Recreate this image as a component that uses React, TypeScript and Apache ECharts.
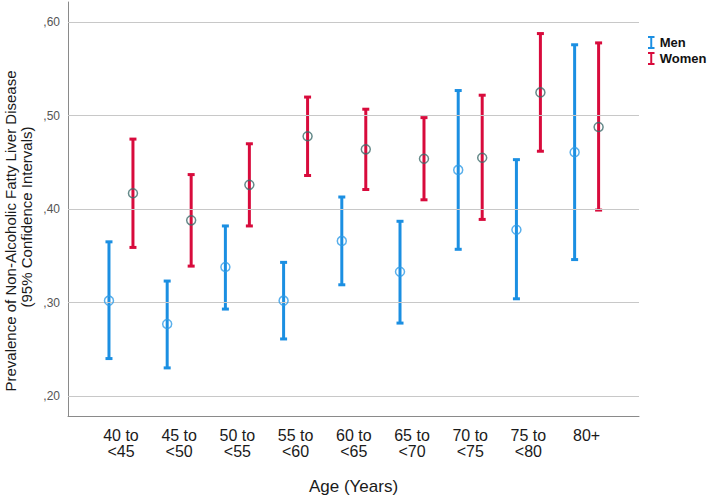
import React, { useEffect, useRef } from "react";
import * as echarts from "echarts";

const categories = ["40 to\n<45", "45 to\n<50", "50 to\n<55", "55 to\n<60", "60 to\n<65", "65 to\n<70", "70 to\n<75", "75 to\n<80", "80+"];
const menMean = [0.302, 0.277, 0.338, 0.302, 0.366, 0.333, 0.442, 0.378, 0.461];
const menLow = [0.240, 0.230, 0.293, 0.261, 0.319, 0.278, 0.357, 0.304, 0.346];
const menHigh = [0.365, 0.323, 0.382, 0.343, 0.413, 0.387, 0.527, 0.453, 0.576];
const womenMean = [0.417, 0.388, 0.426, 0.478, 0.464, 0.454, 0.455, 0.525, 0.488];
const womenLow = [0.359, 0.339, 0.382, 0.436, 0.421, 0.410, 0.389, 0.462, 0.399];
const womenHigh = [0.475, 0.437, 0.470, 0.520, 0.507, 0.498, 0.522, 0.588, 0.578];
const yTicks = [0.2, 0.3, 0.4, 0.5, 0.6];
const yTitle1 = "Prevalence of Non-Alcoholic Fatty Liver Disease";
const yTitle2 = "(95% Confidence Intervals)";
const xTitle = "Age (Years)";

const BLUE = "#1b8fe2";
const RED = "#d80b3c";
const MEN_MARK = "#2f9be6";
const WOMEN_MARK = "#3d6b6b";
const OFFSET = 0.206;
const FONT = "Liberation Sans, Arial, sans-serif";

const IBEAM = "path://M0,0H10V3H6.5V17H10V20H0V17H3.5V3H0Z";

function errorItem(color: string) {
  return (params: any, api: any) => {
    const x = api.value(0);
    const lo = api.coord([x, api.value(1)]);
    const hi = api.coord([x, api.value(2)]);
    const cap = 3.5;
    const style = { stroke: color, lineWidth: 3 };
    return {
      type: "group",
      children: [
        { type: "line", shape: { x1: lo[0], y1: lo[1], x2: hi[0], y2: hi[1] }, style },
        { type: "line", shape: { x1: hi[0] - cap, y1: hi[1], x2: hi[0] + cap, y2: hi[1] }, style },
        { type: "line", shape: { x1: lo[0] - cap, y1: lo[1], x2: lo[0] + cap, y2: lo[1] }, style },
      ],
    };
  };
}

export default function App() {
  const ref = useRef<HTMLDivElement>(null);
  useEffect(() => {
    if (!ref.current) return;
    document.body.style.margin = "0";
    const chart = echarts.init(ref.current, null, { renderer: "svg" });
    const menErr = categories.map((_, i) => [i - OFFSET, menLow[i], menHigh[i]]);
    const womenErr = categories.map((_, i) => [i + OFFSET, womenLow[i], womenHigh[i]]);
    const menPts = categories.map((_, i) => [i - OFFSET, menMean[i]]);
    const womenPts = categories.map((_, i) => [i + OFFSET, womenMean[i]]);
    chart.setOption({
      animation: false,
      textStyle: { fontFamily: FONT },
      grid: { left: 68, right: 69, top: 2, bottom: 77, containLabel: false },
      legend: {
        orient: "vertical",
        left: 643,
        top: 31,
        itemWidth: 7,
        itemHeight: 13,
        itemGap: 3,
        data: [
          { name: "Men", icon: IBEAM },
          { name: "Women", icon: IBEAM },
        ],
        textStyle: { fontSize: 13, fontWeight: "bold", color: "#111" },
      },
      graphic: [
        {
          type: "text",
          x: 10,
          y: 231,
          rotation: Math.PI / 2,
          style: { text: yTitle1, font: `15px ${FONT}`, fill: "#1a1a1a", textAlign: "center", textVerticalAlign: "middle" },
        },
        {
          type: "text",
          x: 26,
          y: 217,
          rotation: Math.PI / 2,
          style: { text: yTitle2, font: `15px ${FONT}`, fill: "#1a1a1a", textAlign: "center", textVerticalAlign: "middle" },
        },
      ],
      xAxis: {
        type: "value",
        min: -0.91,
        max: 8.9,
        axisLine: { show: true, onZero: false, lineStyle: { color: "#8a8a8a", width: 1 } },
        axisTick: { show: false },
        splitLine: { show: false },
        axisLabel: {
          customValues: categories.map((_, i) => i),
          formatter: (v: number) => categories[Math.round(v)] ?? "",
          fontSize: 16,
          lineHeight: 16,
          color: "#1a1a1a",
          margin: 11,
        },
        name: xTitle,
        nameLocation: "middle",
        nameGap: 62,
        nameTextStyle: { fontSize: 17, color: "#1a1a1a" },
      },
      yAxis: {
        type: "value",
        min: 0.1785,
        max: 0.6218,
        axisLine: { show: true, onZero: false, lineStyle: { color: "#8a8a8a", width: 1 } },
        axisTick: { show: false },
        splitLine: { show: false },
        axisLabel: {
          customValues: yTicks,
          formatter: (v: number) => "," + String(Math.round(v * 100)).padStart(2, "0"),
          fontSize: 12,
          color: "#555",
          margin: 8,
        },
      },
      series: [
        {
          name: "grid",
          type: "line",
          data: [],
          silent: true,
          markLine: {
            silent: true,
            symbol: "none",
            label: { show: false },
            lineStyle: { color: "#c8c8c8", width: 1, type: "solid" },
            data: yTicks.map((v) => ({ yAxis: v })),
          },
        },
        {
          name: "Men",
          type: "custom",
          renderItem: errorItem(BLUE),
          itemStyle: { color: BLUE },
          data: menErr,
          z: 3,
        },
        {
          name: "Women",
          type: "custom",
          renderItem: errorItem(RED),
          itemStyle: { color: RED },
          data: womenErr,
          z: 3,
        },
        {
          name: "Men mean",
          type: "scatter",
          symbol: "circle",
          symbolSize: 9,
          itemStyle: { color: "rgba(255,255,255,0)", borderColor: MEN_MARK, borderWidth: 1.5 },
          data: menPts,
          z: 5,
        },
        {
          name: "Women mean",
          type: "scatter",
          symbol: "circle",
          symbolSize: 9,
          itemStyle: { color: "rgba(255,255,255,0)", borderColor: WOMEN_MARK, borderWidth: 1.5 },
          data: womenPts,
          z: 5,
        },
      ],
    });
    return () => chart.dispose();
  }, []);
  return <div ref={ref} style={{ position: "absolute", left: 0, top: 0, width: 708, height: 500 }} />;
}
